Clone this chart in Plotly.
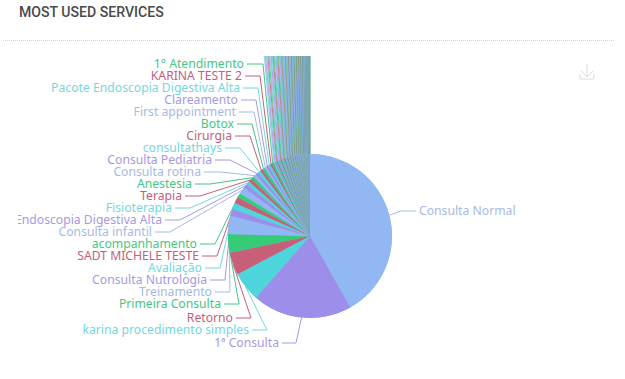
import math
import plotly.graph_objects as go

# ---- data ----
named_services = ["Consulta Normal", "1ª Consulta", "karina procedimento simples", "Retorno",
    "Primeira Consulta", "Treinamento", "Consulta Nutrologia", "Avaliação", "SADT MICHELE TESTE",
    "acompanhamento", "Consulta infantil", "Endoscopia Digestiva Alta", "Fisioterapia", "Terapia",
    "Anestesia", "Consulta rotina", "Consulta Pediatria", "consultathays", "Cirurgia", "Botox",
    "First appointment", "Clareamento", "Pacote Endoscopia Digestiva Alta", "KARINA TESTE 2",
    "1° Atendimento"]
named_values = [151, 70.8, 21, 16, 13.2, 13, 5, 4.5, 4.5, 3, 5, 3, 2.6, 2.4, 2.2, 2.2, 2, 2, 1.8,
    1.8, 1.6, 1.6, 1.5, 1.4, 1.3]
# the long tail of services whose labels fall outside the chart
tail_values = [0.75, 0.7, 0.7, 0.65, 0.65, 0.6, 0.6, 0.6, 0.55, 0.55, 0.55, 0.5, 0.5, 0.5, 0.5,
    0.45, 0.45, 0.45, 0.45, 0.4, 0.4, 0.4, 0.4, 0.4, 0.35, 0.35, 0.35, 0.35, 0.35, 0.35, 0.35, 0.35,
    0.3, 0.3, 0.3, 0.3, 0.3, 0.3, 0.3, 0.3, 0.3, 0.3, 0.25, 0.25, 0.25, 0.25, 0.25, 0.25, 0.25, 0.25,
    0.25, 0.25, 0.2, 0.2, 0.2, 0.2, 0.2, 0.2, 0.2, 0.2, 0.2, 0.2, 0.15, 0.15, 0.15, 0.15, 0.15, 0.15,
    0.15, 0.15, 0.15, 0.15, 0.15, 0.15, 0.15, 0.15, 0.1, 0.1, 0.1, 0.1, 0.1, 0.1, 0.1, 0.1, 0.1, 0.1,
    0.1, 0.1, 0.1, 0.1]
tail_services = [f"Serviço {i + 26}" for i in range(len(tail_values))]

slice_colors = ["#91B8F2", "#9D8FE9", "#4FD6DC", "#C75F79", "#36CB76"]
label_colors = ["#A6BAE6", "#A69ADF", "#74D8DE", "#C2617B", "#45C684"]

# ---- layout (label placement in page pixels) ----
W, H = 625, 379
CX, CY, R = 310, 236, 82
CLIP_LEFT = 18
TOP = 56
TEXT_DY = 1
# text end x, y, elbow x for each named service
label_layout = [(419, 211, 401), (279, 343, 296), (249, 330, 267), (233, 318, 251), (221, 304, 239),
    (212, 292, 230), (207, 280, 225), (202, 268, 220), (199, 256, 217), (197, 244, 215),
    (152, 232, 170), (162, 220, 180), (172, 208, 190), (182, 196, 200), (192, 184, 210),
    (201, 172, 220), (212, 160, 230), (222, 148, 240), (232, 136, 250), (234, 124, 252),
    (236, 112, 254), (238, 100, 256), (240, 88, 258), (242, 76, 260), (244, 64, 263)]

labels = named_services + tail_services
values = named_values + tail_values
total = sum(values)
colors = [slice_colors[i % 5] for i in range(len(values))]

def edge_point(angle_deg):
    a = math.radians(angle_deg)
    return CX + R * math.sin(a), CY - R * math.cos(a)

mids, acc = [], 0.0
for v in values:
    mids.append((acc + v / 2) / total * 360)
    acc += v

fig = go.Figure()
nn = len(named_services)
pie_domain = dict(x=[(CX - R) / W, (CX + R) / W], y=[1 - (CY + R) / H, 1 - (CY - R) / H])

# leader lines of the unlabelled tail: they run up and out of the chart
for i in range(nn, len(values)):
    x0, y0 = edge_point(mids[i])
    slope = 0.0035 * (360 - mids[i])
    fig.add_trace(go.Scatter(x=[x0, x0 - (y0 - TOP) * slope], y=[y0, TOP], mode="lines",
        line=dict(color=colors[i], width=1.2), opacity=0.75, hoverinfo="skip", showlegend=False))

# leader lines of the named services
for i in range(nn):
    x0, y0 = edge_point(mids[i])
    tx, ty, ex = label_layout[i]
    end = tx - 3 if i == 0 else tx + 3
    fig.add_trace(go.Scatter(x=[x0, ex, end], y=[y0, ty, ty], mode="lines",
        line=dict(color=label_colors[i % 5], width=1), hoverinfo="skip", showlegend=False))

# labels as text, clipped by the plot area like the original canvas
fig.add_trace(go.Scatter(
    x=[p[0] for p in label_layout], y=[p[1] + TEXT_DY for p in label_layout],
    text=named_services, mode="text", cliponaxis=True,
    textposition=["middle right"] + ["middle left"] * (nn - 1),
    textfont=dict(family="Noto Sans", size=12.2,
                  color=[label_colors[i % 5] for i in range(nn)]),
    hoverinfo="skip", showlegend=False))

# backing wedge behind the hair-thin tail slices
fig.add_trace(go.Pie(labels=["named", "tail"], values=[sum(named_values), sum(tail_values)],
    sort=False, direction="clockwise", rotation=0, textinfo="none", showlegend=False, hoverinfo="skip",
    marker=dict(colors=["#91B8F2", "#7FAEBB"], line=dict(width=0)), domain=pie_domain))

fig.add_trace(go.Pie(labels=labels, values=values, sort=False, direction="clockwise", rotation=0,
    textinfo="none", showlegend=False,
    marker=dict(colors=colors, line=dict(width=0)),
    domain=pie_domain))

# dotted divider and download icon
shapes = [dict(type="line", xref="paper", yref="paper", x0=3 / W, x1=615 / W, y0=1 - 40.5 / H, y1=1 - 40.5 / H,
               line=dict(color="#D6D6D6", width=1, dash="1px,1px"))]
for (x0, y0, x1, y1) in [(587, 64, 587, 77), (581, 71, 587, 77), (593, 71, 587, 77),
                         (580, 74, 580, 79), (580, 79, 594, 79), (594, 79, 594, 74)]:
    shapes.append(dict(type="line", xref="x", yref="y", x0=x0, y0=y0, x1=x1, y1=y1,
                       line=dict(color="#DADADA", width=1)))

fig.update_layout(
    width=W, height=H, autosize=False, margin=dict(l=0, r=0, t=0, b=0),
    paper_bgcolor="white", plot_bgcolor="white", shapes=shapes,
    xaxis=dict(range=[CLIP_LEFT, W], domain=[CLIP_LEFT / W, 1], visible=False, fixedrange=True),
    yaxis=dict(range=[H, 0], domain=[0, 1], visible=False, fixedrange=True),
    annotations=[dict(text="MOST USED SERVICES", xref="paper", yref="paper", x=16.5 / W, y=1 - 12.5 / H,
                      xanchor="left", yanchor="middle", showarrow=False,
                      font=dict(family="Roboto", size=14.1, color="#4A4A4A", weight=500))],
)
fig.write_html("out.html", config=dict(displayModeBar=False),
               post_script="document.body.style.margin='0';")
